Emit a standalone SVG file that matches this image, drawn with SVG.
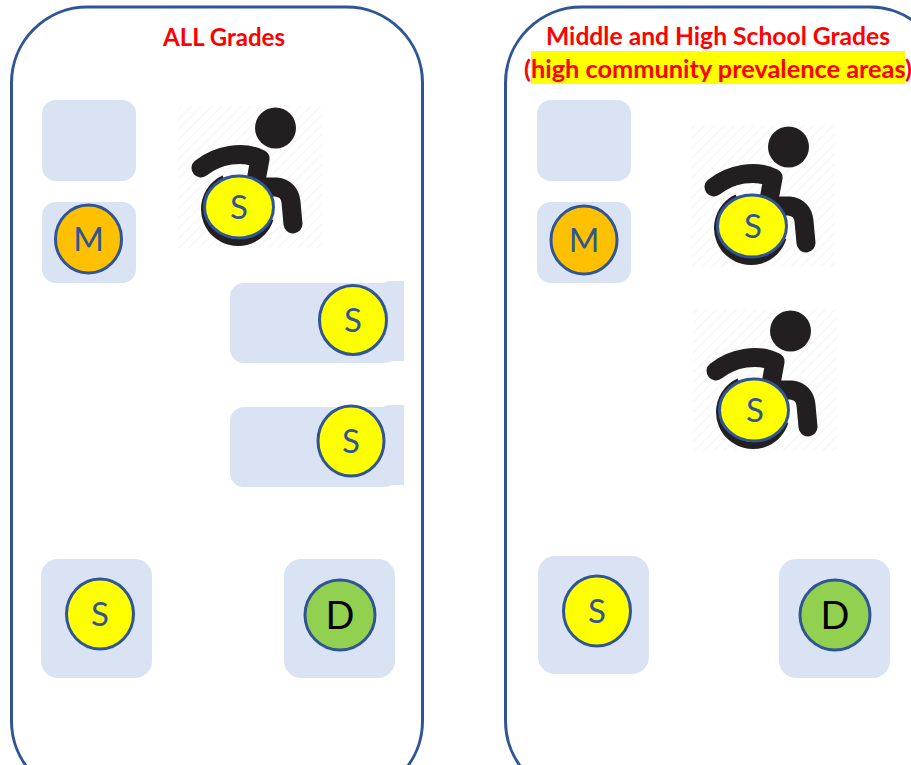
<svg xmlns="http://www.w3.org/2000/svg" width="911" height="765" viewBox="0 0 911 765">
<style>
.panel{fill:#fff;stroke:#2f5597;stroke-width:3}
.box{fill:#dae3f3}
.c{stroke:#2f5597;stroke-width:3}
.y{fill:#ffff00}.o{fill:#ffc000}.g{fill:#92d050}
.l{font-family:Lato,"Liberation Sans",sans-serif;font-size:33px;text-anchor:middle;fill:#2f5597}
.d{font-family:Lato,"Liberation Sans",sans-serif;font-size:38px;text-anchor:middle;fill:#000}
.t{font-family:Lato,"Liberation Sans",sans-serif;font-size:25px;font-weight:700;text-anchor:middle;fill:#ff0000}
.i{fill:none;stroke:#231f20;stroke-width:19;stroke-linecap:round;stroke-linejoin:round}
</style>
<defs>
<pattern id="h" width="7" height="7" patternUnits="userSpaceOnUse" patternTransform="rotate(45)"><rect width="7" height="7" fill="#fff"/><rect width="1.500" height="7" fill="#f7f7f7"/></pattern>
<g id="chair">
<rect x="178" y="106" width="144" height="142" fill="url(#h)"/>
<circle cx="275.500" cy="128" r="20.500" fill="#231f20"/>
<path class="i" d="M201 168C217 155 243 150 260 159L255 186"/>
<path class="i" d="M250 187L276 187C285 188 290 193 291 202L293 224"/>
<path d="M224 178.600A33.500 33.500 0 1 0 270 219" fill="none" stroke="#231f20" stroke-width="7"/>
</g>
</defs>
<g id="panel-all">
<rect class="panel" x="11.500" y="7" width="411" height="790" rx="76"/>
<text class="t" x="224" y="46" textLength="122" lengthAdjust="spacingAndGlyphs">ALL Grades</text>
</g>
<g id="panel-middle-high">
<rect class="panel" x="505.500" y="7" width="440" height="790" rx="76"/>
<rect x="531" y="51" width="374" height="33" fill="#ffff00"/>
<text class="t" x="718" y="45" textLength="344" lengthAdjust="spacingAndGlyphs">Middle and High School Grades</text>
<text class="t" x="718" y="78" textLength="388" lengthAdjust="spacingAndGlyphs">(high community prevalence areas)</text>
</g>
<g id="connectors"></g>
<g id="a-empty"><rect class="box" x="42" y="100" width="94" height="81" rx="14"/></g>
<g id="a-wheelchair"><use href="#chair"/>
<ellipse class="c y" cx="239" cy="207" rx="34.500" ry="31"/><text class="l" x="239" y="219">S</text></g>
<g id="a-m"><rect class="box" x="42" y="202" width="94" height="81" rx="14"/>
<ellipse class="c o" cx="88.500" cy="239" rx="33" ry="34"/><text class="l" x="88.500" y="251">M</text></g>
<g id="a-s1"><path class="box" d="M244 283H383Q386 281 390 281H404V361H392Q388 363 384 363H244A14 14 0 0 1 230 349V297A14 14 0 0 1 244 283Z"/>
<ellipse class="c y" cx="353" cy="320" rx="33.500" ry="34.500"/><text class="l" x="353" y="332">S</text></g>
<g id="a-s2"><path class="box" d="M244 407H383Q386 405 390 405H404V485H392Q388 487 384 487H244A14 14 0 0 1 230 473V421A14 14 0 0 1 244 407Z"/>
<ellipse class="c y" cx="351" cy="441" rx="33" ry="35"/><text class="l" x="351" y="453">S</text></g>
<g id="a-s3"><rect class="box" x="41" y="559" width="111" height="119" rx="17"/>
<ellipse class="c y" cx="100" cy="614" rx="33.500" ry="35"/><text class="l" x="100" y="626">S</text></g>
<g id="a-d"><rect class="box" x="284" y="559" width="111" height="119" rx="17"/>
<ellipse class="c g" cx="340" cy="615" rx="35" ry="35"/><text class="d" x="340" y="629">D</text></g>
<g id="b-empty"><rect class="box" x="537" y="100" width="94" height="81" rx="14"/></g>
<g id="b-m"><rect class="box" x="537" y="202" width="94" height="81" rx="14"/>
<ellipse class="c o" cx="584" cy="240" rx="33" ry="34"/><text class="l" x="584" y="252">M</text></g>
<g id="b-wheelchair1"><use href="#chair" x="513" y="19"/>
<ellipse class="c y" cx="752" cy="226" rx="34.500" ry="31"/><text class="l" x="753" y="238">S</text></g>
<g id="b-wheelchair2"><use href="#chair" x="515" y="203"/>
<ellipse class="c y" cx="754" cy="410" rx="34.500" ry="31"/><text class="l" x="755" y="422">S</text></g>
<g id="b-s"><rect class="box" x="538" y="556" width="111" height="118" rx="17"/>
<ellipse class="c y" cx="597" cy="611" rx="33.500" ry="35"/><text class="l" x="597" y="623">S</text></g>
<g id="b-d"><rect class="box" x="779" y="559" width="111" height="119" rx="17"/>
<ellipse class="c g" cx="835" cy="615" rx="35" ry="35"/><text class="d" x="835" y="629">D</text></g>
</svg>
